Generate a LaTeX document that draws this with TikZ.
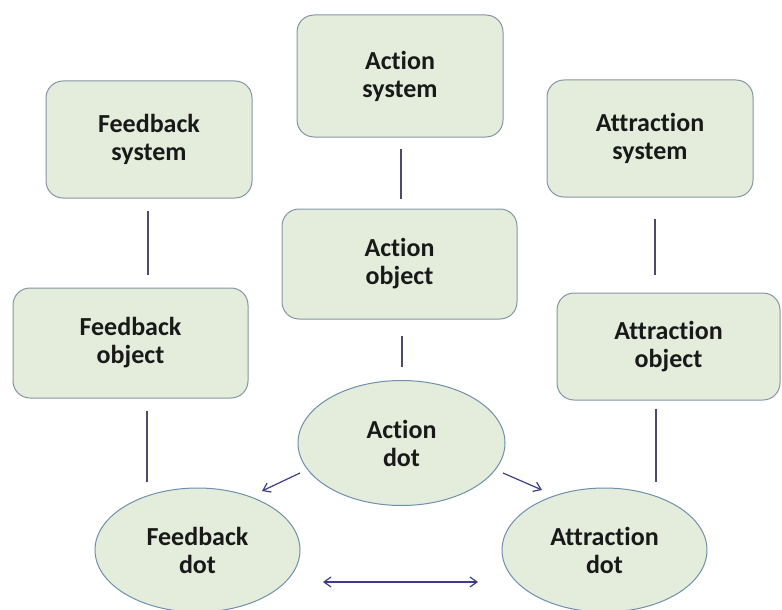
\documentclass[tikz,border=0pt]{standalone}
\usepackage{fontspec}
\setmainfont{Carlito}[Ligatures=NoCommon]
\usepackage{xcolor}
\usepackage{tikz}
\usetikzlibrary{shapes,arrows.meta,calc}
\definecolor{boxfill}{HTML}{E4EDDC}
\definecolor{boxline}{HTML}{8595A5}
\definecolor{dotline}{HTML}{6E8FAD}
\definecolor{linkcol}{HTML}{4B4B6B}
\tikzstyle{sysbox}=[rectangle, rounded corners=17pt, draw=boxline, fill=boxfill,% pale green boxes
line width=1pt, align=center, text=black!90,
font=\bfseries\fontsize{26}{28}\selectfont]
\tikzstyle{dotnode}=[ellipse, draw=dotline, fill=boxfill, inner sep=0pt,% the three dots
line width=1pt, align=center, text=black!90,
minimum width=205pt, minimum height=124pt,
font=\bfseries\fontsize{26}{28}\selectfont]
\tikzstyle{link}=[draw=linkcol, line width=1.2pt]
\tikzstyle{dlink}=[draw=linkcol!80!blue, line width=1.2pt]

\begin{document}
\begin{tikzpicture}[x=1pt, y=-1pt]
\useasboundingbox (0,0) rectangle (782,610);
\node[sysbox, minimum width=206pt, minimum height=122pt] (AS) at (400,76) {Action\\system};
\node[sysbox, minimum width=206pt, minimum height=117pt] (FS) at (149,139.5) {Feedback\\system};
\node[sysbox, minimum width=206pt, minimum height=117pt] (TS) at (650,138.5) {Attraction\\system};
\node[sysbox, minimum width=235pt, minimum height=110pt] (AO) at (399.5,264) {Action\\object};
\node[sysbox, minimum width=235pt, minimum height=110pt] (FO) at (130.5,343) {Feedback\\object};
\node[sysbox, minimum width=223pt, minimum height=107pt] (TO) at (668.5,346.5) {Attraction\\object};
\node[dotnode, minimum width=207pt, minimum height=125pt] (AD) at (401.5,443) {Action\\dot};
\node[dotnode] (FD) at (197.5,550) {Feedback\\dot};
\node[dotnode] (TD) at (604.5,550) {Attraction\\dot};
% plain links, they stop short of the boxes
\draw [link] ($(AS.south)+(1,11)$) -- ($(AO.north)+(1.5,-10)$);
\draw [link] ($(FS.south)+(-1,12)$) -- ($(FO.north)+(17.5,-13)$);
\draw [link] ($(TS.south)+(5,21)$) -- ($(TO.north)+(-13.5,-18)$);
\draw [link] ($(AO.south)+(2.5,16)$) -- ($(AD.north)+(0.5,-13.5)$);
\draw [link] ($(FO.south)+(16.5,12)$) -- ($(FD.north)+(-50.5,-6)$);
\draw [link] ($(TO.south)+(-12.5,8)$) -- ($(TD.north)+(51.5,-6)$);
% arrows between the dots
\draw [dlink, -{Straight Barb[length=7pt,width=10pt]}] ($(AD)+(-101.5,30)$) -- ($(FD)+(64.5,-59)$);
\draw [dlink, -{Straight Barb[length=7pt,width=10pt]}] ($(AD)+(101.5,30)$) -- ($(TD)+(-62.5,-60)$);
\draw [dlink, {Straight Barb[length=7pt,width=10pt]}-{Straight Barb[length=7pt,width=10pt]}] ($(FD)+(125.5,32)$) -- ($(TD)+(-126.5,32)$);
\end{tikzpicture}
\end{document}
